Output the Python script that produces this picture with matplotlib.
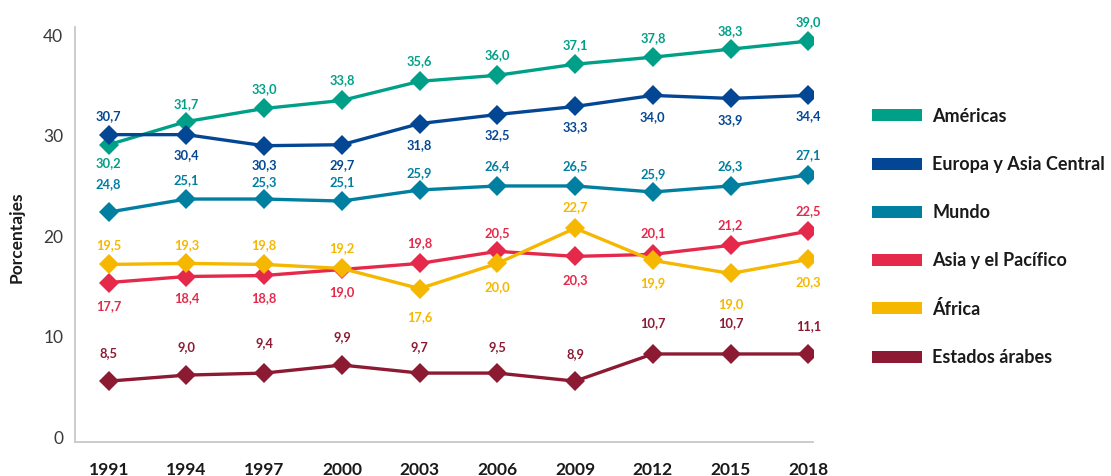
import matplotlib
matplotlib.use("Agg")
import matplotlib.pyplot as plt
from matplotlib.patches import Rectangle

years = ["1991", "1994", "1997", "2000", "2003", "2006", "2009", "2012", "2015", "2018"]
series_names = ["Américas", "Europa y Asia Central", "Mundo", "Asia y el Pacífico",
                "África", "Estados árabes"]

# plotted positions (as drawn in the reference)
americas = [29.0, 31.3, 32.6, 33.4, 35.3, 35.9, 37.0, 37.7, 38.5, 39.3]
europa = [30.0, 30.0, 28.9, 29.0, 31.1, 32.0, 32.8, 33.9, 33.6, 33.9]
mundo = [22.3, 23.6, 23.6, 23.4, 24.5, 24.9, 24.9, 24.3, 24.9, 26.0]
asia = [15.3, 15.9, 16.0, 16.6, 17.2, 18.4, 17.9, 18.1, 19.0, 20.4]
africa = [17.1, 17.2, 17.1, 16.7, 14.7, 17.2, 20.7, 17.5, 16.2, 17.6]
arabes = [5.5, 6.1, 6.3, 7.1, 6.3, 6.3, 5.5, 8.2, 8.2, 8.2]

# data labels (as printed in the reference)
americas_lbl = ["30,2", "31,7", "33,0", "33,8", "35,6", "36,0", "37,1", "37,8", "38,3", "39,0"]
europa_lbl = ["30,7", "30,4", "30,3", "29,7", "31,8", "32,5", "33,3", "34,0", "33,9", "34,4"]
mundo_lbl = ["24,8", "25,1", "25,3", "25,1", "25,9", "26,4", "26,5", "25,9", "26,3", "27,1"]
asia_lbl = ["17,7", "18,4", "18,8", "19,0", "19,8", "20,5", "20,3", "20,1", "21,2", "22,5"]
africa_lbl = ["19,5", "19,3", "19,8", "19,2", "17,6", "20,0", "22,7", "19,9", "19,0", "20,3"]
arabes_lbl = ["8,5", "9,0", "9,4", "9,9", "9,7", "9,5", "8,9", "10,7", "10,7", "11,1"]

# label vertical offsets in pixels (negative = above)
americas_off = [17, -18, -20, -21, -21, -21, -20, -20, -19, -20]
europa_off = [-20, 19, 18, 19, 20, 20, 20, 21, 21, 20]
mundo_off = [-29, -20, -18, -20, -18, -21, -21, -19, -21, -21]
asia_off = [23, 21, 22, 22, -21, -19, 23, -22, -21, -21]
africa_off = [-20, -19, -20, -21, 28, 23, -22, 22, 30, 22]
arabes_off = [-29, -29, -31, -29, -27, -27, -28, -32, -32, -29]

colors = ["#00A088", "#034694", "#017FA0", "#E5294A", "#F5B700", "#8C1A33"]

values = [americas, europa, mundo, asia, africa, arabes]
labels = [americas_lbl, europa_lbl, mundo_lbl, asia_lbl, africa_lbl, arabes_lbl]
offsets = [americas_off, europa_off, mundo_off, asia_off, africa_off, arabes_off]

plt.rcParams['font.family'] = ['Lato', 'DejaVu Sans']

W, H = 1111, 477
fig = plt.figure(figsize=(W / 100, H / 100), dpi=100)
ax_left, ax_right, ax_top, ax_bot = 75, 813, 28, 443
ax = fig.add_axes([ax_left / W, 1 - ax_bot / H, (ax_right - ax_left) / W, (ax_bot - ax_top) / H])

x = list(range(len(years)))
for vals, lbls, offs, col in zip(values, labels, offsets, colors):
    ax.plot(x, vals, color=col, lw=2.4, marker='D', ms=9.8, mew=0, solid_joinstyle='miter', zorder=3)
    for xi, v, t, o in zip(x, vals, lbls, offs):
        ax.annotate(t, (xi, v), xytext=(0, -o * 0.72), textcoords='offset points',
                    ha='center', va='center', fontsize=9.3, fontweight='bold', color=col)

step = 77.73
ax.set_xlim(-33.7 / step, 9 + 4.7 / step)
ax.set_ylim(-0.55, 40.7)
ax.set_xticks(x)
ax.set_xticklabels(years, fontsize=12.5, fontweight='bold', color='#1a1a1a')
ax.set_yticks([0, 10, 20, 30, 40])
ax.set_yticklabels(["0", "10", "20", "30", "40"], fontsize=12.5, fontweight='normal', color='#3a3a3a')
ax.tick_params(axis='both', length=0)
ax.tick_params(axis='y', pad=8.5)
ax.tick_params(axis='x', pad=14)
for s in ['top', 'right']:
    ax.spines[s].set_visible(False)
for s in ['left', 'bottom']:
    ax.spines[s].set_color('#c8c8c8')
    ax.spines[s].set_linewidth(1.3)

fig.text(17 / W, 1 - 237 / H, "Porcentajes", rotation=90, ha='center', va='center',
         fontsize=12.5, fontweight='bold', color='#1a1a1a')

# legend
leg_y = [116, 164.5, 212.7, 260.7, 309.3, 357.7]
for name, col, yy in zip(series_names, colors, leg_y):
    fig.add_artist(Rectangle((872 / W, 1 - (yy + 6) / H), 50 / W, 12 / H,
                             transform=fig.transFigure, facecolor=col, edgecolor='none'))
    fig.text(932 / W, 1 - yy / H, name, ha='left', va='center', fontsize=13,
             fontweight='bold', color='#1a1a1a')

fig.savefig("out.png", dpi=100)
